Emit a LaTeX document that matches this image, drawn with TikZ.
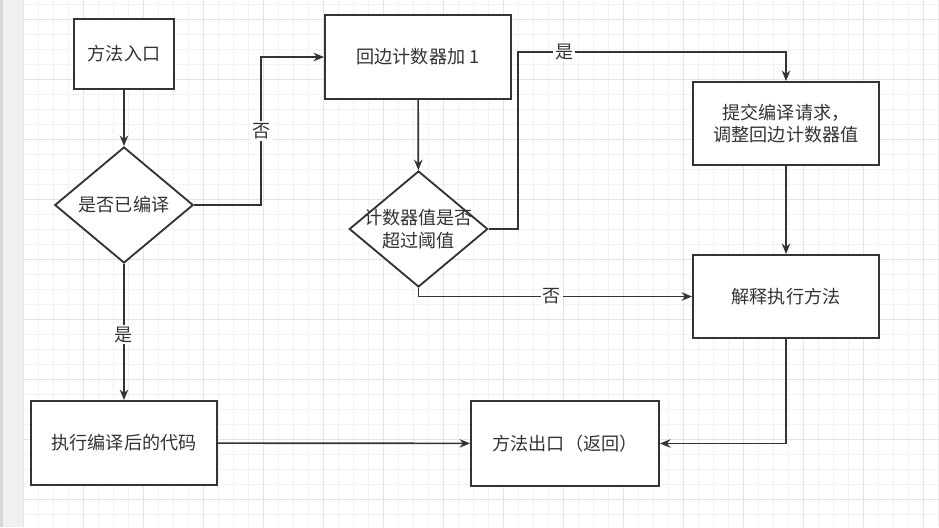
\documentclass[tikz,border=0pt]{standalone}
\usepackage{fontspec}
\setmainfont{Noto Sans CJK SC}
\usetikzlibrary{shapes.geometric,arrows.meta}
\definecolor{flowInk}{HTML}{333333}
\definecolor{gridMinor}{HTML}{F2F2F2}
\definecolor{gridMajor}{HTML}{E4E4E4}
\definecolor{sideBar}{HTML}{F0F0F0}
\definecolor{sideEdge}{HTML}{D6D6DA}

\tikzset{
    flowtext/.style={text=flowInk, font=\fontsize{10.3}{13}\selectfont, align=center},
    procbox/.style={flowtext, draw=flowInk, line width=1.05pt, fill=white, inner sep=2pt},
    decision/.style={flowtext, diamond, draw=flowInk, line width=1.05pt, fill=white, inner sep=-9pt,
        minimum width=2.77cm, minimum height=2.32cm},
    flow/.style={draw=flowInk, line width=0.95pt, -{Stealth[length=6pt,width=4.8pt]}},
    edgelabel/.style={flowtext, fill=white, inner sep=1pt}
}

\begin{document}
\begin{tikzpicture}[x=0.02cm, y=-0.02cm]
    \useasboundingbox (0,0) rectangle (939,527);
    \fill[white] (0,0) rectangle (939,527);
    \fill[sideEdge] (0,0) rectangle (3,527);
    \fill[sideBar] (3,0) rectangle (23,527);
    \foreach \gx in {0,...,61}
        \draw[gridMinor, line width=0.5pt] ({23+15*\gx},0) -- ({23+15*\gx},527);
    \foreach \gy in {0,...,34}
        \draw[gridMinor, line width=0.5pt] (23,{4+15*\gy}) -- (939,{4+15*\gy});
    \foreach \gx in {0,...,15}
        \draw[gridMajor, line width=0.5pt] ({23+60*\gx},0) -- ({23+60*\gx},527);
    \foreach \gy in {0,...,8}
        \draw[gridMajor, line width=0.5pt] (23,{19+60*\gy}) -- (939,{19+60*\gy});

    \node[procbox, minimum width=2cm, minimum height=1.4cm] (entry) at (124,54) {方法入口};
    \node[decision] (compiled) at (124,205) {是否已编译};
    \node[procbox, minimum width=3.72cm, minimum height=1.68cm] (counter) at (418,57) {回边计数器加 1};
    \node[decision] (threshold) at (418.5,229) {计数器值是否\\超过阈值};
    \node[procbox, minimum width=3.72cm, minimum height=1.66cm] (submit) at (786,123.5) {提交编译请求，\\调整回边计数器值};
    \node[procbox, minimum width=3.72cm, minimum height=1.66cm] (interp) at (786,296.5) {解释执行方法};
    \node[procbox, minimum width=3.72cm, minimum height=1.68cm] (native) at (124,443) {执行编译后的代码};
    \node[procbox, minimum width=3.76cm, minimum height=1.7cm] (exit) at (565,443.5) {方法出口（返回）};
    \coordinate (yesTurn) at (518,52);

    \draw[flow] (entry) -- (compiled);
    \draw[flow] (compiled.east) -- ++(67,0) |- (counter.west) node[edgelabel, pos=0.25] {否};
    \draw[flow] (compiled) -- (native) node[edgelabel, pos=0.52] {是};
    \draw[flow] (counter) -- (threshold);
    \draw[flow] (threshold.east) -| (yesTurn) -| (submit) node[edgelabel, pos=0.086] {是};
    \draw[flow] (threshold.south) |- (interp.west) node[edgelabel, pos=0.744] {否};
    \draw[flow] (submit) -- (interp);
    \draw[flow] (interp) |- (exit);
    \draw[flow] (native) -- (exit);
\end{tikzpicture}
\end{document}
